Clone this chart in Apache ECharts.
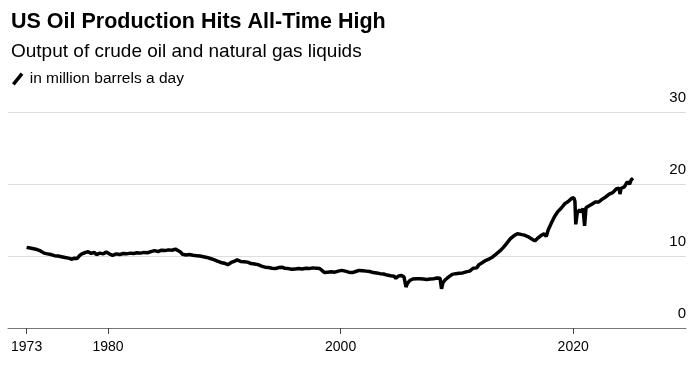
<!DOCTYPE html>
<html>
<head>
<meta charset="utf-8">
<script src="https://cdn.jsdelivr.net/npm/echarts@6/dist/echarts.min.js"></script>
<style>html,body{margin:0;padding:0;background:#fff}#c{width:697px;height:365px}</style>
</head>
<body>
<div id="c"></div>
<script>
var titleText = 'US Oil Production Hits All-Time High';
var subtitleText = 'Output of crude oil and natural gas liquids';
var seriesName = 'in million barrels a day';
var xTickYears = [1973, 1980, 2000, 2020];
var yTicks = [0, 10, 20, 30];

var years = [
 1973.0,1973.3,1973.6,1973.9,1974.2,1974.5,1974.8,1975.1,1975.4,1975.7,
 1976.0,1976.3,1976.6,1976.9,1977.1,1977.35,1977.55,1977.75,1978.0,1978.3,
 1978.55,1978.8,1979.0,1979.3,1979.6,1979.85,1980.1,1980.4,1980.7,1981.0,
 1981.3,1981.6,1981.9,1982.2,1982.5,1982.8,1983.1,1983.4,1983.7,1984.0,
 1984.3,1984.6,1984.9,1985.2,1985.5,1985.8,1985.95,1986.2,1986.4,1986.7,
 1987.0,1987.3,1987.6,1987.9,1988.2,1988.5,1988.8,1989.1,1989.4,1989.7,
 1990.0,1990.3,1990.6,1990.9,1991.1,1991.4,1991.7,1992.0,1992.3,1992.6,
 1992.9,1993.2,1993.5,1993.8,1994.1,1994.4,1994.7,1994.95,1995.2,1995.5,
 1995.8,1996.1,1996.4,1996.7,1997.0,1997.3,1997.6,1997.9,1998.2,1998.4,
 1998.6,1998.9,1999.2,1999.5,1999.8,2000.1,2000.4,2000.7,2001.0,2001.3,
 2001.6,2001.9,2002.2,2002.5,2002.8,2003.1,2003.4,2003.7,2004.0,2004.3,
 2004.6,2004.75,2004.95,2005.2,2005.45,2005.62,2005.75,2005.95,2006.2,2006.5,
 2006.8,2007.1,2007.4,2007.7,2008.0,2008.3,2008.55,2008.68,2008.8,2009.0,
 2009.3,2009.6,2009.9,2010.2,2010.5,2010.8,2011.1,2011.4,2011.7,2011.9,
 2012.2,2012.5,2012.8,2013.1,2013.4,2013.7,2014.0,2014.3,2014.6,2014.9,
 2015.2,2015.5,2015.8,2016.1,2016.4,2016.7,2016.9,2017.2,2017.5,2017.68,
 2017.85,2018.1,2018.4,2018.7,2019.0,2019.3,2019.6,2019.85,2020.05,2020.15,
 2020.22,2020.35,2020.55,2020.7,2020.85,2020.98,2021.1,2021.3,2021.6,2021.9,
 2022.2,2022.5,2022.8,2023.1,2023.4,2023.7,2023.95,2024.02,2024.12,2024.4,
 2024.65,2024.85,2025.0,2025.15
];
var output = [
 11.2,11.1,11.0,10.9,10.7,10.4,10.3,10.2,10.05,10.0,
 9.9,9.8,9.7,9.55,9.7,9.65,10.05,10.3,10.45,10.6,
 10.35,10.5,10.2,10.4,10.3,10.55,10.3,10.1,10.3,10.2,
 10.35,10.3,10.4,10.35,10.45,10.4,10.5,10.45,10.6,10.75,
 10.6,10.8,10.75,10.85,10.8,10.95,11.05,10.6,10.25,10.15,
 10.2,10.1,10.05,10.0,9.9,9.8,9.65,9.5,9.3,9.1,
 9.0,8.8,9.1,9.3,9.45,9.25,9.2,9.15,8.95,8.9,
 8.8,8.6,8.45,8.4,8.3,8.25,8.4,8.45,8.3,8.25,
 8.15,8.2,8.25,8.2,8.3,8.25,8.35,8.3,8.25,8.0,
 7.7,7.75,7.8,7.75,7.9,8.0,7.9,7.75,7.7,7.85,
 8.0,7.95,7.9,7.85,7.7,7.65,7.55,7.5,7.35,7.25,
 7.2,6.9,7.2,7.3,7.1,5.7,6.2,6.6,6.8,6.85,
 6.85,6.8,6.75,6.8,6.85,6.95,6.9,5.45,6.3,6.7,
 7.1,7.45,7.55,7.6,7.65,7.8,7.9,8.3,8.35,8.8,
 9.1,9.4,9.6,9.9,10.3,10.7,11.2,11.8,12.4,12.8,
 13.1,13.0,12.9,12.7,12.4,12.1,12.4,12.8,13.1,12.7,
 13.6,14.5,15.5,16.2,16.7,17.3,17.6,18.0,18.1,17.6,
 14.4,16.0,16.4,16.1,16.6,14.2,16.7,16.9,17.2,17.5,
 17.5,17.9,18.2,18.6,18.8,19.3,19.4,18.6,19.4,19.6,
 20.3,20.0,20.6,20.8
];

var data = years.map(function (y, i) { return [y, output[i]]; });

var chart = echarts.init(document.getElementById('c'), null, {renderer: 'canvas'});
var font = '"Liberation Sans", Arial, sans-serif';
chart.setOption({
  animation: false,
  backgroundColor: '#fff',
  textStyle: {fontFamily: font},
  title: [
    {text: titleText, left: 6, top: 6,
     textStyle: {fontFamily: font, fontWeight: 'bold', fontSize: 21.5, color: '#000'}},
    {text: subtitleText, left: 6, top: 37,
     textStyle: {fontFamily: font, fontWeight: 'normal', fontSize: 19, color: '#000'}}
  ],
  legend: {
    left: 7, top: 66, itemWidth: 12, itemHeight: 13, itemGap: 10,
    icon: 'path://M0,10 L8,0 L10.5,2 L2.5,12 Z',
    textStyle: {fontFamily: font, fontSize: 15.5, color: '#000', padding: [0,0,0,1]},
    data: [seriesName]
  },
  grid: {left: 8, right: 11, top: 112, bottom: 37, containLabel: false},
  xAxis: {
    type: 'value', min: 1971.4, max: 2029.7,
    axisLine: {show: true, lineStyle: {color: '#777', width: 1}},
    axisTick: {show: true, length: 6, lineStyle: {color: '#444'}, customValues: xTickYears},
    axisLabel: {customValues: xTickYears, formatter: function (v) { return String(Math.round(v)); },
      fontFamily: font, fontSize: 14, color: '#000', margin: 12},
    splitLine: {show: false}
  },
  yAxis: {
    type: 'value', position: 'right', min: 0, max: 30, interval: 10,
    axisLine: {show: false}, axisTick: {show: false},
    axisLabel: {inside: true, margin: 0, verticalAlign: 'bottom', align: 'right',
      padding: [0, 0, 7, 0], fontFamily: font, fontSize: 15, color: '#000'},
    splitLine: {show: true, lineStyle: {color: '#ddd', width: 1}}
  },
  series: [{
    name: seriesName, type: 'line', data: data, showSymbol: false,
    itemStyle: {color: '#000'},
    lineStyle: {color: '#000', width: 3.5}
  }]
});
</script>
</body>
</html>
